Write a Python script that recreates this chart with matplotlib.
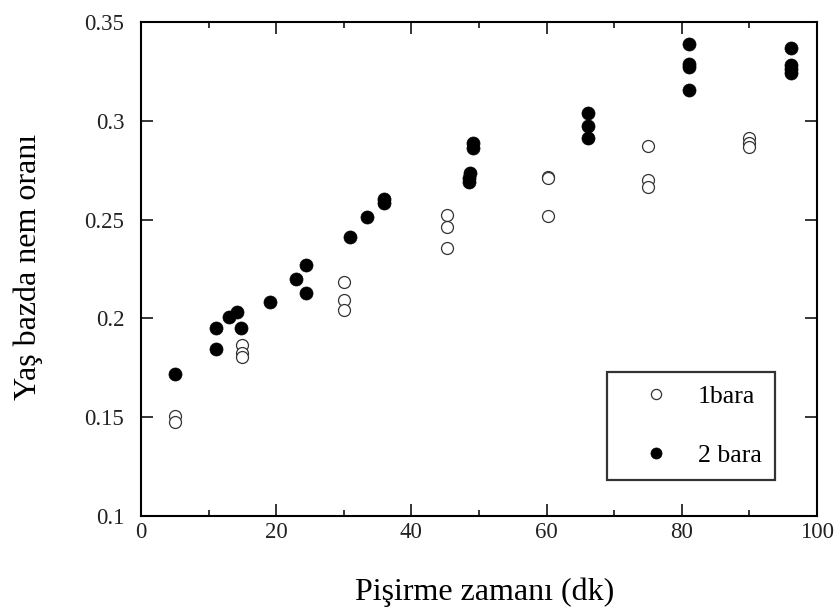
import matplotlib.pyplot as plt

plt.rcParams['font.family'] = ['Liberation Serif', 'DejaVu Serif']

# 1 bara (open circles)
t_1bar = [5, 5,
          15, 15, 15,
          30, 30, 30,
          45.3, 45.3, 45.3,
          60.2, 60.2, 60.2,
          75, 75, 75,
          90, 90, 90]
m_1bar = [0.1506, 0.1478,
          0.1865, 0.1825, 0.1805,
          0.2184, 0.2093, 0.2045,
          0.2523, 0.2463, 0.2356,
          0.2718, 0.2711, 0.2518,
          0.2873, 0.2702, 0.2664,
          0.2913, 0.2888, 0.2870]

# 2 bara (filled circles)
t_2bar = [5,
          11.1, 11.1, 13.0, 14.2, 14.8,
          19.1, 22.9, 24.4, 24.4,
          30.9, 33.4, 35.9, 35.9,
          49.1, 49.1, 48.7, 48.5, 48.5,
          66.1, 66.1, 66.1,
          81.1, 81.1, 81.1, 81.1,
          96.2, 96.2, 96.2, 96.2]
m_2bar = [0.172,
          0.195, 0.1845, 0.2005, 0.2032, 0.195,
          0.2085, 0.220, 0.227, 0.213,
          0.241, 0.2515, 0.2604, 0.2585,
          0.2888, 0.2862, 0.2738, 0.2710, 0.2690,
          0.304, 0.2975, 0.2912,
          0.339, 0.329, 0.3275, 0.3155,
          0.3368, 0.3285, 0.3262, 0.3245]

fig = plt.figure(figsize=(8.37, 6.15), dpi=100)
ax = fig.add_axes([0.1685, 0.161, 0.8076, 0.803])

ax.plot(t_1bar, m_1bar, 'o', ms=8.6, mfc='white', mec='#333333', mew=0.9,
        linestyle='none', label='1bara')
ax.plot(t_2bar, m_2bar, 'o', ms=9.4, mfc='black', mec='black', mew=0.5,
        linestyle='none', label='2 bara')

ax.set_xlim(0, 100)
ax.set_ylim(0.1, 0.35)
ax.set_xticks([0, 20, 40, 60, 80, 100])
ax.set_xticks([10, 30, 50, 70, 90], minor=True)
ax.set_yticks([0.1, 0.15, 0.2, 0.25, 0.3, 0.35])
ax.set_yticklabels(['0.1', '0.15', '0.2', '0.25', '0.3', '0.35'])

ax.tick_params(which='both', direction='in', top=True, right=True,
               width=1.1, labelsize=16.5, labelcolor='#222222')
ax.tick_params(which='major', length=8.5)
ax.tick_params(which='minor', length=4.5)
ax.tick_params(axis='x', pad=4)
ax.tick_params(axis='y', pad=12)
for s in ax.spines.values():
    s.set_linewidth(1.5)

leg = ax.legend(loc='lower left', bbox_to_anchor=(0.689, 0.073),
                fontsize=18.5, frameon=True, fancybox=False, edgecolor='black',
                borderpad=0.5, labelspacing=1.4, handlelength=2.8,
                handletextpad=0.25, borderaxespad=0, markerscale=0.85)
leg.get_frame().set_linewidth(1.6)

# axis titles
fig.text(485 / 837, 1 - 592 / 615, 'Pişirme zamanı (dk)', fontsize=23,
         ha='center', va='center')
fig.text(28 / 837, 1 - 267 / 615, 'Yaş bazda nem oranı', fontsize=23,
         ha='center', va='center', rotation=90)

fig.savefig('out.png', dpi=100)
